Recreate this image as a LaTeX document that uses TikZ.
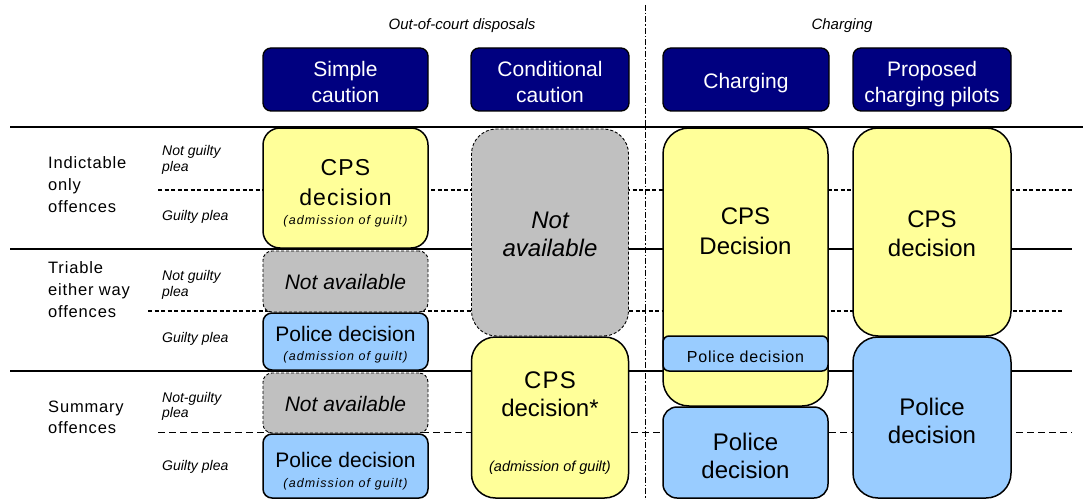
\documentclass[tikz,border=0pt]{standalone}
\usepackage{fontspec}
\setmainfont{Liberation Sans}
\newfontfamily\spc[LetterSpace=5]{Liberation Sans}
\newfontfamily\spcw[LetterSpace=9]{Liberation Sans}
\definecolor{cyel}{HTML}{FFFF99}
\definecolor{cblue}{HTML}{99CCFF}
\definecolor{cgray}{HTML}{C0C0C0}
\definecolor{cnavy}{HTML}{000080}
% #1 extra options, #2 name, #3 x, #4 y (cap middle), #5 font size, #6 text
\newcommand\lbl[6][]{\node[anchor=base,inner sep=0,font=\fontsize{#5}{#5}\selectfont,#1] (#2) at (#3,{#4+0.358*#5}) {#6};}
\begin{document}
\begin{tikzpicture}[x=1pt,y=-1pt,
  box/.style={draw=black,line width=1.5pt,inner sep=0,rectangle},
  nabox/.style={draw=black,line width=0.9pt,dash pattern=on 3pt off 2pt,fill=cgray,inner sep=0,rectangle},
  hdr/.style={draw=black,line width=1.3pt,fill=cnavy,inner sep=0,rectangle,rounded corners=8},
  grid/.style={line width=1.6pt},
  thickdash/.style={line width=1.9pt,dash pattern=on 4pt off 2.5pt},
  thindash/.style={line width=0.9pt,dash pattern=on 7pt off 4pt},
  wt/.style={text=white},
  adm/.style={font=\fontsize{12.5}{12.5}\selectfont\spcw\itshape},
  side/.style={anchor=base west,font=\fontsize{16.5}{16.5}\selectfont\spc},
  plea/.style={anchor=base west,font=\fontsize{14}{14}\selectfont\itshape}]
\useasboundingbox (0,0) rectangle (1083,500);
% grid lines
\draw[grid] (10,127) -- (1083,127);
\draw[grid] (10,249) -- (1072,249);
\draw[grid] (10,371) -- (1072,371);
\draw[thickdash] (158,190) -- (1072,190);
\draw[thickdash] (148,311) -- (1063,311);
\draw[thindash] (158,432) -- (1072,432);
\draw[line width=0.8pt,dash pattern=on 6pt off 2pt on 1.5pt off 2pt] (645,5) -- (645,500);
% top group labels
\lbl[font=\fontsize{15}{15}\selectfont\itshape]{ocd}{462}{24}{15}{Out-of-court disposals}
\lbl[font=\fontsize{15}{15}\selectfont\itshape]{chg}{842}{24}{15}{Charging}
% headers
\node[hdr,minimum width=165,minimum height=63] (h1) at (345.5,79.5) {};
\node[hdr,minimum width=158,minimum height=63] (h2) at (550,79.5) {};
\node[hdr,minimum width=166,minimum height=63] (h3) at (746,79.5) {};
\node[hdr,minimum width=158,minimum height=63] (h4) at (932,79.5) {};
\lbl[wt]{h1a}{345.5}{69}{21}{Simple}
\lbl[wt]{h1b}{345.5}{95}{21}{caution}
\lbl[wt]{h2a}{550}{69}{21}{Conditional}
\lbl[wt]{h2b}{550}{95}{21}{caution}
\lbl[wt]{h3a}{746}{81}{21}{Charging}
\lbl[wt]{h4a}{932}{69}{21}{Proposed}
\lbl[wt]{h4b}{932}{95}{21}{charging pilots}
% left labels
\lbl[side]{l1a}{48}{163}{16.5}{Indictable}
\lbl[side]{l1b}{48}{185}{16.5}{only}
\lbl[side]{l1c}{48}{207}{16.5}{offences}
\lbl[side]{l2a}{48}{268}{16.5}{Triable}
\lbl[side]{l2b}{48}{290}{16.5}{either way}
\lbl[side]{l2c}{48}{312}{16.5}{offences}
\lbl[side]{l3a}{48}{407}{16.5}{Summary}
\lbl[side]{l3b}{48}{428}{16.5}{offences}
\lbl[plea]{p1a}{162}{150}{14}{Not guilty}
\lbl[plea]{p1b}{162}{166}{14}{plea}
\lbl[plea]{p1c}{162}{215}{14}{Guilty plea}
\lbl[plea]{p2a}{162}{275}{14}{Not guilty}
\lbl[plea]{p2b}{162}{291}{14}{plea}
\lbl[plea]{p2c}{162}{337}{14}{Guilty plea}
\lbl[plea]{p3a}{162}{397}{14}{Not-guilty}
\lbl[plea]{p3b}{162}{412}{14}{plea}
\lbl[plea]{p3c}{162}{465}{14}{Guilty plea}
% simple caution column
\node[box,fill=cyel,minimum width=165,minimum height=120,rounded corners=17] (s1) at (345.5,188) {};
\node[nabox,minimum width=165,minimum height=61,rounded corners=9] (s2) at (345.5,281.5) {};
\node[box,fill=cblue,minimum width=165,minimum height=57,rounded corners=9] (s3) at (345.5,341.5) {};
\node[nabox,minimum width=165,minimum height=60,rounded corners=9] (s4) at (345.5,403) {};
\node[box,fill=cblue,minimum width=165,minimum height=64,rounded corners=9] (s5) at (345.5,466) {};
\lbl[font=\fontsize{23}{23}\selectfont\spc]{s1a}{345.5}{167}{23}{CPS}
\lbl[font=\fontsize{23}{23}\selectfont\spc]{s1b}{345.5}{197}{23}{decision}
\lbl[adm]{s1c}{345.5}{220}{12.5}{(admission of guilt)}
\lbl[font=\fontsize{21}{21}\selectfont\itshape]{s2a}{345.5}{282}{21}{Not available}
\lbl{s3a}{345.5}{334}{21}{Police decision}
\lbl[adm]{s3b}{345.5}{356}{12.5}{(admission of guilt)}
\lbl[font=\fontsize{21}{21}\selectfont\itshape]{s4a}{345.5}{404}{21}{Not available}
\lbl{s5a}{345.5}{460}{21}{Police decision}
\lbl[adm]{s5b}{345.5}{483}{12.5}{(admission of guilt)}
% conditional caution column
\node[nabox,minimum width=157,minimum height=207,rounded corners=25] (c1) at (550,232.5) {};
\node[box,fill=cyel,minimum width=157,minimum height=161,rounded corners=24] (c2) at (550,417.5) {};
\lbl[font=\fontsize{24}{24}\selectfont\itshape]{c1a}{550}{220}{24}{Not}
\lbl[font=\fontsize{24}{24}\selectfont\itshape]{c1b}{550}{248}{24}{available}
\lbl[font=\fontsize{24}{24}\selectfont\spc]{c2a}{550}{380}{24}{CPS}
\lbl{c2b}{550}{408}{24}{decision*}
\lbl[font=\fontsize{14.5}{14.5}\selectfont\itshape]{c2c}{550}{466}{14.5}{(admission of guilt)}
% charging column
\node[box,fill=cyel,minimum width=165,minimum height=278,rounded corners=26] (g1) at (745.5,267) {};
\node[box,fill=cblue,minimum width=165,minimum height=35,rounded corners=6] (g2) at (745.5,353.5) {};
\node[box,fill=cblue,minimum width=165,minimum height=91,rounded corners=14] (g3) at (745.5,452.5) {};
\lbl{g1a}{745.5}{216}{24}{CPS}
\lbl{g1b}{745.5}{246}{24}{Decision}
\lbl[font=\fontsize{16}{16}\selectfont\spc]{g2a}{745.5}{357}{16}{Police decision}
\lbl{g3a}{745.5}{442}{24}{Police}
\lbl{g3b}{745.5}{470}{24}{decision}
% proposed charging pilots column
\node[box,fill=cyel,minimum width=158,minimum height=208,rounded corners=25] (q1) at (932,232) {};
\node[box,fill=cblue,minimum width=158,minimum height=161,rounded corners=25] (q2) at (932,417.5) {};
\lbl{q1a}{932}{219}{24}{CPS}
\lbl{q1b}{932}{248}{24}{decision}
\lbl{q2a}{932}{407}{24}{Police}
\lbl{q2b}{932}{435}{24}{decision}
\end{tikzpicture}
\end{document}
